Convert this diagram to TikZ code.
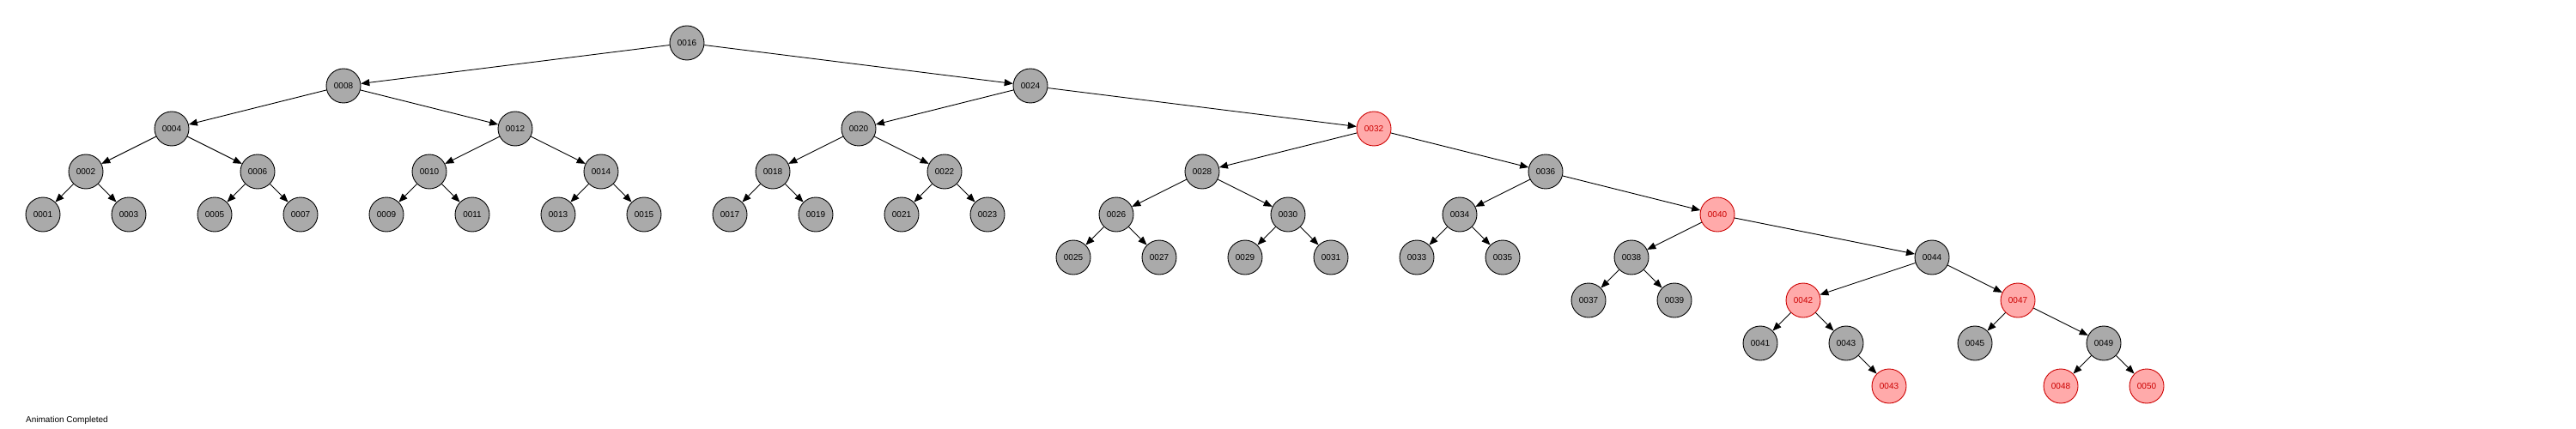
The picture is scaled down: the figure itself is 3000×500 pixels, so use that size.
\documentclass[tikz,border=0pt]{standalone}
\usepackage{fontspec}
\setmainfont{Liberation Sans}
\usetikzlibrary{arrows.meta}
\definecolor{nodegray}{HTML}{AAAAAA}
\definecolor{nodepink}{HTML}{FFAAAA}
\definecolor{nodered}{HTML}{CC0000}

\begin{document}
\begin{tikzpicture}[x=1pt, y=-1pt,
  blacknode/.style={draw, circle, fill=nodegray, line width=0.9pt, minimum size=40pt, inner sep=0pt, font=\fontsize{10}{12}\selectfont},
  rednode/.style={blacknode, draw=nodered, fill=nodepink, text=nodered},
  link/.style={-{Triangle[length=10pt, width=8pt]}, line width=0.9pt}]
\useasboundingbox (0,0) rectangle (3000,500);

% black nodes: label/x/y
\foreach \n/\x/\y in {0016/800/50, 0008/400/100, 0024/1200/100,
  0004/200/150, 0012/600/150, 0020/1000/150,
  0002/100/200, 0006/300/200, 0010/500/200, 0014/700/200, 0018/900/200, 0022/1100/200, 0028/1400/200, 0036/1800/200,
  0001/50/250, 0003/150/250, 0005/250/250, 0007/350/250, 0009/450/250, 0011/550/250, 0013/650/250, 0015/750/250,
  0017/850/250, 0019/950/250, 0021/1050/250, 0023/1150/250, 0026/1300/250, 0030/1500/250, 0034/1700/250,
  0025/1250/300, 0027/1350/300, 0029/1450/300, 0031/1550/300, 0033/1650/300, 0035/1750/300, 0038/1900/300, 0044/2250/300,
  0037/1850/350, 0039/1950/350,
  0041/2050/400, 0043/2150/400, 0045/2300/400, 0049/2450/400}
  \node[blacknode] (n\n) at (\x,\y) {\n};

% red nodes
\foreach \n/\x/\y in {0032/1600/150, 0040/2000/250, 0042/2100/350, 0047/2350/350, 0048/2400/450, 0050/2500/450}
  \node[rednode] (n\n) at (\x,\y) {\n};
\node[rednode] (n0043r) at (2200,450) {0043};

% parent/child
\foreach \p/\c in {0016/0008, 0016/0024, 0008/0004, 0008/0012, 0004/0002, 0004/0006,
  0002/0001, 0002/0003, 0006/0005, 0006/0007, 0012/0010, 0012/0014, 0010/0009, 0010/0011,
  0014/0013, 0014/0015, 0024/0020, 0024/0032, 0020/0018, 0020/0022, 0018/0017, 0018/0019,
  0022/0021, 0022/0023, 0032/0028, 0032/0036, 0028/0026, 0028/0030, 0026/0025, 0026/0027,
  0030/0029, 0030/0031, 0036/0034, 0036/0040, 0034/0033, 0034/0035, 0040/0038, 0040/0044,
  0038/0037, 0038/0039, 0044/0042, 0044/0047, 0042/0041, 0042/0043, 0043/0043r,
  0047/0045, 0047/0049, 0049/0048, 0049/0050}
  \draw[link] (n\p) -- (n\c);

\node[anchor=west, font=\fontsize{10}{12}\selectfont, inner sep=0pt] (status) at (30,490) {Animation Completed};
\end{tikzpicture}
\end{document}
